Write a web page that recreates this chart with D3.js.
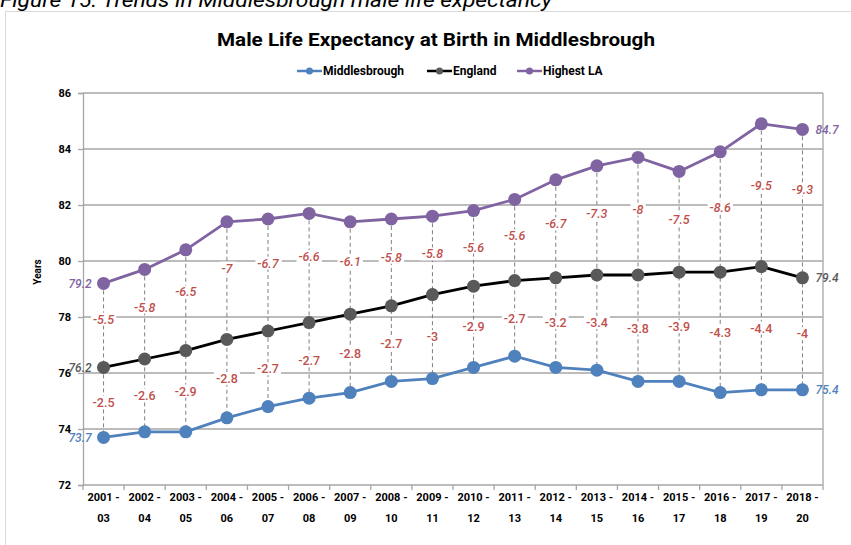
<!DOCTYPE html>
<html>
<head>
<meta charset="utf-8">
<script src="https://cdn.jsdelivr.net/npm/d3@7"></script>
<style>
  body { margin: 0; background: #fff; }
  text { font-family: Roboto, "Liberation Sans", sans-serif; }
</style>
</head>
<body>
<div id="chart"></div>
<script>

// periods (three-year pooled)
var periods = ["2001 - 03", "2002 - 04", "2003 - 05", "2004 - 06", "2005 - 07", "2006 - 08",
  "2007 - 09", "2008 - 10", "2009 - 11", "2010 - 12", "2011 - 13", "2012 - 14",
  "2013 - 15", "2014 - 16", "2015 - 17", "2016 - 18", "2017 - 19", "2018 - 20"];

var middlesbrough = [73.7, 73.9, 73.9, 74.4, 74.8, 75.1, 75.3, 75.7, 75.8, 76.2, 76.6, 76.2, 76.1, 75.7, 75.7, 75.3, 75.4, 75.4];
var england = [76.2, 76.5, 76.8, 77.2, 77.5, 77.8, 78.1, 78.4, 78.8, 79.1, 79.3, 79.4, 79.5, 79.5, 79.6, 79.6, 79.8, 79.4];
var highestLA = [79.2, 79.7, 80.4, 81.4, 81.5, 81.7, 81.4, 81.5, 81.6, 81.8, 82.2, 82.9, 83.4, 83.7, 83.2, 83.9, 84.9, 84.7];

// gap labels as shown on the chart
var gapEngland = ["-2.5", "-2.6", "-2.9", "-2.8", "-2.7", "-2.7", "-2.8", "-2.7", "-3", "-2.9", "-2.7", "-3.2", "-3.4", "-3.8", "-3.9", "-4.3", "-4.4", "-4"];
var gapHighest = ["-5.5", "-5.8", "-6.5", "-7", "-6.7", "-6.6", "-6.1", "-5.8", "-5.8", "-5.6", "-5.6", "-6.7", "-7.3", "-8", "-7.5", "-8.6", "-9.5", "-9.3"];
// where the highest-LA gap labels sit (years)
var gapHighestAt = [77.92, 78.35, 78.89, 79.74, 79.92, 80.15, 79.98, 80.13, 80.25, 80.49, 80.89, 81.32, 81.7, 81.85, 81.46, 81.9, 82.68, 82.56];

var yTicks = [72, 74, 76, 78, 80, 82, 84, 86];

var colors = { mbro: "#4f81bd", eng: "#000000", engDot: "#595959", high: "#8064a2", gap: "#c0504d", grid: "#a6a6a6" };

var svgWidth = 851;
var svgHeight = 545;
var margin = { top: 93, right: 28, bottom: 60, left: 83 };
var chartWidth = svgWidth - margin.left - margin.right;
var chartHeight = svgHeight - margin.top - margin.bottom;

var svg = d3.select("#chart")
  .append("svg")
  .attr("width", svgWidth)
  .attr("height", svgHeight)
  .style("display", "block");

svg.append("rect").attr("width", svgWidth).attr("height", svgHeight).attr("fill", "#fff");

// caption cut off at the top of the page
svg.append("text")
  .attr("x", 0).attr("y", 6.5)
  .attr("font-size", 20).attr("font-style", "italic")
  .attr("textLength", 552).attr("lengthAdjust", "spacingAndGlyphs")
  .text("Figure 15: Trends in Middlesbrough male life expectancy");

// chart frame
svg.append("path")
  .attr("d", "M5.5," + svgHeight + "V11.5H" + svgWidth)
  .attr("fill", "none").attr("stroke", "#d9d9d9");

svg.append("text")
  .attr("x", 436).attr("y", 46)
  .attr("text-anchor", "middle")
  .attr("font-size", 19).attr("font-weight", "bold")
  .attr("textLength", 438).attr("lengthAdjust", "spacingAndGlyphs")
  .text("Male Life Expectancy at Birth in Middlesbrough");

// legend
var legendItems = [
  { name: "Middlesbrough", line: colors.mbro, dot: colors.mbro, x: 297 },
  { name: "England", line: colors.eng, dot: colors.engDot, x: 427 },
  { name: "Highest LA", line: colors.high, dot: colors.high, x: 517 }
];
var legend = svg.append("g").attr("transform", "translate(0,71)");
legendItems.forEach(function(d) {
  legend.append("line").attr("x1", d.x).attr("x2", d.x + 25)
    .attr("stroke", d.line).attr("stroke-width", 2.5);
  legend.append("circle").attr("cx", d.x + 12.5).attr("r", 3.5).attr("fill", d.dot);
  legend.append("text").attr("x", d.x + 26).attr("dy", "0.35em")
    .attr("font-size", 12).attr("font-weight", "bold")
    .text(d.name);
});

var chartGroup = svg.append("g")
  .attr("transform", `translate(${margin.left}, ${margin.top})`);

var x = d3.scaleBand().domain(periods).range([0, chartWidth]);
var cx = function(i) { return x(periods[i]) + x.bandwidth() / 2; };
var y = d3.scaleLinear().domain([72, 86]).range([chartHeight, 0]);

// gridlines
chartGroup.append("g")
  .selectAll("line")
  .data(yTicks)
  .enter()
  .append("line")
  .attr("x1", 0).attr("x2", chartWidth)
  .attr("y1", d => y(d)).attr("y2", d => y(d))
  .attr("stroke", colors.grid).attr("stroke-width", 1.3);

// left axis
var leftAxis = d3.axisLeft(y).tickValues(yTicks).tickSize(5).tickPadding(7);
var gy = chartGroup.append("g").call(leftAxis);
gy.select(".domain").attr("stroke", colors.grid).attr("stroke-width", 1.3);
gy.selectAll(".tick line").attr("stroke", colors.grid).attr("stroke-width", 1.3);
gy.selectAll(".tick text").attr("font-size", 11).attr("font-weight", "bold")
  .attr("font-family", "Roboto, sans-serif").attr("fill", "#000");

// right border
chartGroup.append("line")
  .attr("x1", chartWidth).attr("x2", chartWidth).attr("y1", 0).attr("y2", chartHeight)
  .attr("stroke", colors.grid).attr("stroke-width", 1.3);

// bottom axis ticks between categories
chartGroup.append("g")
  .selectAll("line")
  .data(d3.range(periods.length + 1))
  .enter()
  .append("line")
  .attr("x1", i => i * x.step()).attr("x2", i => i * x.step())
  .attr("y1", chartHeight).attr("y2", chartHeight + 5)
  .attr("stroke", colors.grid).attr("stroke-width", 1.3);

var xLabels = chartGroup.append("g").selectAll("text")
  .data(periods)
  .enter()
  .append("text")
  .attr("x", (d, i) => cx(i))
  .attr("y", chartHeight + 16)
  .attr("text-anchor", "middle")
  .attr("font-size", 11).attr("font-weight", "bold");
xLabels.append("tspan").attr("x", (d, i) => cx(i)).text(d => d.split(" - ")[0] + " -");
xLabels.append("tspan").attr("x", (d, i) => cx(i)).attr("dy", 20.5).text(d => d.split(" - ")[1]);

svg.append("text")
  .attr("transform", "translate(41,272) rotate(-90)")
  .attr("text-anchor", "middle")
  .attr("font-size", 10).attr("font-weight", "bold")
  .text("Years");

// dashed drop lines from highest LA down to Middlesbrough
chartGroup.append("g")
  .selectAll("line")
  .data(periods)
  .enter()
  .append("line")
  .attr("x1", (d, i) => cx(i)).attr("x2", (d, i) => cx(i))
  .attr("y1", (d, i) => y(highestLA[i])).attr("y2", (d, i) => y(middlesbrough[i]))
  .attr("stroke", "#7f7f7f").attr("stroke-width", 1).attr("stroke-dasharray", "4,3");

// label with white box behind it
function boxedLabel(g, px, py, txt, fill, italic) {
  var t = g.append("text")
    .attr("x", px).attr("y", py).attr("dy", "0.35em")
    .attr("text-anchor", "middle")
    .attr("font-size", 12.5).attr("font-weight", 500)
    .attr("font-style", italic ? "italic" : "normal")
    .attr("fill", fill)
    .text(txt);
  var b = t.node().getBBox();
  g.insert("rect", function() { return t.node(); })
    .attr("x", b.x - 2).attr("y", b.y + 1).attr("width", b.width + 4).attr("height", b.height - 2)
    .attr("fill", "#fff");
}

var labelGroup = chartGroup.append("g");
periods.forEach(function(p, i) {
  boxedLabel(labelGroup, cx(i), y((middlesbrough[i] + england[i]) / 2), gapEngland[i], colors.gap, false);
  boxedLabel(labelGroup, cx(i), y(gapHighestAt[i]), gapHighest[i], colors.gap, true);
});

// series
var series = [
  { values: middlesbrough, line: colors.mbro, dot: colors.mbro },
  { values: england, line: colors.eng, dot: colors.engDot },
  { values: highestLA, line: colors.high, dot: colors.high }
];
var line = d3.line().x((d, i) => cx(i)).y(d => y(d));
series.forEach(function(s) {
  chartGroup.append("path")
    .datum(s.values)
    .attr("d", line)
    .attr("fill", "none")
    .attr("stroke", s.line).attr("stroke-width", 2.8);
  chartGroup.append("g").selectAll("circle")
    .data(s.values)
    .enter()
    .append("circle")
    .attr("cx", (d, i) => cx(i)).attr("cy", d => y(d))
    .attr("r", 6.5).attr("fill", s.dot);

  // first and last values
  var last = s.values.length - 1;
  [[0, "end", -12], [last, "start", 13]].forEach(function(e) {
    chartGroup.append("text")
      .attr("x", cx(e[0]) + e[2]).attr("y", y(s.values[e[0]])).attr("dy", "0.35em")
      .attr("text-anchor", e[1])
      .attr("font-size", 12).attr("font-style", "italic").attr("font-weight", 500)
      .attr("fill", s.dot)
      .text(s.values[e[0]].toFixed(1));
  });
});

</script>
</body>
</html>
